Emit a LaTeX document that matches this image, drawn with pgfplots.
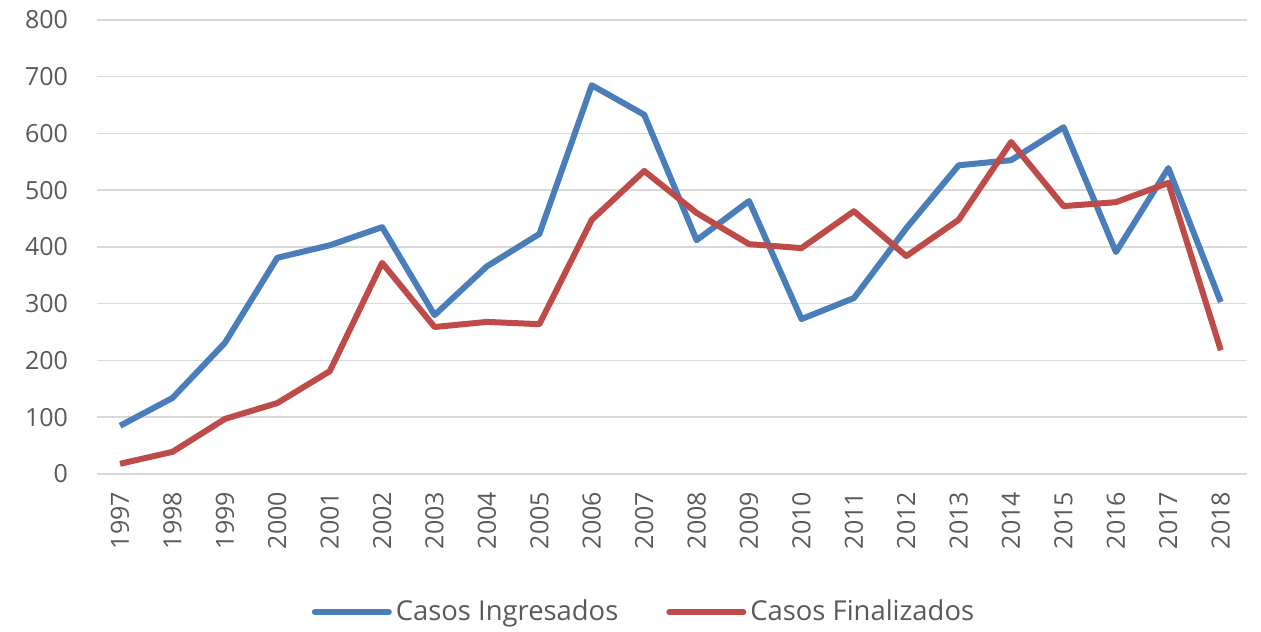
\documentclass[border=0pt]{standalone}
\usepackage{fontspec}
\setmainfont{Open Sans}
\usepackage{pgfplots}
\pgfplotsset{compat=1.18}
\definecolor{cblue}{HTML}{4A7EBB}
\definecolor{cred}{HTML}{BE4B48}
\definecolor{tgrey}{HTML}{595959}
\definecolor{ggrey}{HTML}{D9D9D9}
\begin{document}
\begin{tikzpicture}
\begin{axis}[
  name=ax,
  scale only axis,
  width=575pt, height=227pt,
  xmin=1996.56, xmax=2018.5,
  ymin=0, ymax=800,
  ytick={0,100,...,800},
  xtick={1997,...,2018},
  /pgf/number format/1000 sep={},
  /pgf/number format/assume math mode=true,
  axis lines*=left,
  axis line style={-},
  x axis line style={draw=ggrey, line width=0.75pt},
  y axis line style={draw=none},
  ymajorgrids,
  grid style={ggrey, line width=0.75pt},
  major tick length=0pt,
  tick label style={font=\fontsize{12.5}{14}\selectfont, text=tgrey},
  yticklabel style={xshift=-11pt},
  xticklabel style={rotate=90, anchor=east, xshift=-5.5pt},
  legend style={at={(0.4765,-0.304)}, anchor=center, draw=none, legend columns=2,
    font=\fontsize{13.7}{15}\selectfont, text=tgrey,
    /tikz/every even column/.append style={column sep=22pt}},
  legend image code/.code={\draw[#1, line cap=round] (0pt,0pt) -- (37pt,0pt);},
  clip=false,
]
\addplot[cblue, line width=3pt, line join=round] coordinates {
(1997,85) (1998,134) (1999,231) (2000,381) (2001,403) (2002,435) (2003,280)
(2004,366) (2005,423) (2006,685) (2007,633) (2008,412) (2009,481) (2010,273)
(2011,310) (2012,433) (2013,544) (2014,553) (2015,611) (2016,391) (2017,539) (2018,303)};
\addlegendentry{Casos Ingresados}
\addplot[cred, line width=3pt, line join=round] coordinates {
(1997,18) (1998,39) (1999,97) (2000,125) (2001,181) (2002,372) (2003,259)
(2004,268) (2005,264) (2006,448) (2007,534) (2008,460) (2009,405) (2010,398)
(2011,463) (2012,384) (2013,448) (2014,585) (2015,472) (2016,479) (2017,513) (2018,218)};
\addlegendentry{Casos Finalizados}
\end{axis}
\pgfresetboundingbox
\path ([xshift=-48.5pt,yshift=-79pt]ax.south west) rectangle ([xshift=7pt,yshift=10pt]ax.north east);
\end{tikzpicture}
\end{document}
